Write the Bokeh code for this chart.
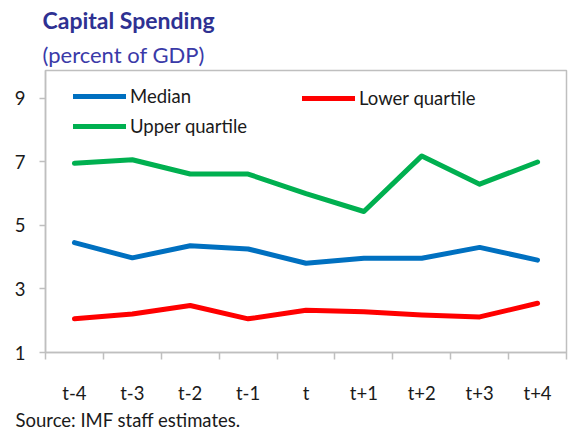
from bokeh.plotting import figure
from bokeh.models import Range1d, FixedTicker, Legend, LegendItem, Title
from bokeh.embed import file_html
from bokeh.resources import INLINE

# ---- data ----
categories = ["t-4", "t-3", "t-2", "t-1", "t", "t+1", "t+2", "t+3", "t+4"]
median = [4.46, 3.98, 4.36, 4.26, 3.81, 3.97, 3.97, 4.31, 3.91]
lower_quartile = [2.06, 2.21, 2.48, 2.06, 2.33, 2.28, 2.18, 2.12, 2.55]
upper_quartile = [6.96, 7.07, 6.62, 6.62, 6.00, 5.44, 7.19, 6.30, 7.00]
y_ticks = [1, 3, 5, 7, 9]

title_text = "Capital Spending"
subtitle_text = "(percent of GDP)"
source_text = "Source: IMF staff estimates."

FONT = "Lato"
AXIS_GRAY = "#BFBFBF"
TEXT = "#1a1a1a"

positions = list(range(len(categories)))

p = figure(width=568, height=430, output_backend="svg", toolbar_location=None,
           title_location=None,
           x_range=Range1d(-0.5, len(categories) - 0.5), y_range=Range1d(1, 9.88),
           min_border_left=45, min_border_right=2, min_border_top=70, min_border_bottom=62)

p.xgrid.visible = False
p.ygrid.visible = False
p.outline_line_color = AXIS_GRAY
p.outline_line_width = 1.5
p.background_fill_color = "white"
p.border_fill_color = "white"

# x axis: labels at category centres, ticks at category boundaries
xa = p.xaxis[0]
xa.ticker = FixedTicker(ticks=positions,
                        minor_ticks=[i - 0.5 for i in range(len(categories) + 1)])
xa.major_label_overrides = {i: c for i, c in enumerate(categories)}
xa.major_tick_line_color = None
xa.major_tick_out = 0
xa.major_tick_in = 0
xa.minor_tick_line_color = AXIS_GRAY
xa.minor_tick_line_width = 1.5
xa.minor_tick_out = 7
xa.minor_tick_in = 0
xa.axis_line_color = AXIS_GRAY
xa.axis_line_width = 1.5
xa.major_label_standoff = 22
xa.major_label_text_font = FONT
xa.major_label_text_font_size = "18.5px"
xa.major_label_text_color = TEXT

ya = p.yaxis[0]
ya.ticker = FixedTicker(ticks=y_ticks)
ya.major_tick_line_color = AXIS_GRAY
ya.major_tick_line_width = 1.5
ya.major_tick_out = 6
ya.major_tick_in = 0
ya.minor_tick_line_color = None
ya.axis_line_color = AXIS_GRAY
ya.axis_line_width = 1.5
ya.major_label_standoff = 14
ya.major_label_text_font = FONT
ya.major_label_text_font_size = "18.5px"
ya.major_label_text_color = TEXT

common = dict(line_width=5, line_cap="round", line_join="round")
r_med = p.line(positions, median, line_color="#0070C0", **common)
r_low = p.line(positions, lower_quartile, line_color="#FF0000", **common)
r_up = p.line(positions, upper_quartile, line_color="#00B050", **common)

leg_style = dict(border_line_color=None, background_fill_alpha=0, padding=0, margin=0,
                 spacing=8, glyph_width=53, glyph_height=20, label_height=20,
                 label_standoff=4, label_text_font=FONT, label_text_font_size="18.5px",
                 label_text_color=TEXT)
leg1 = Legend(items=[LegendItem(label="Median", renderers=[r_med]),
                     LegendItem(label="Upper quartile", renderers=[r_up])],
              location=(28, 215), **leg_style)
leg2 = Legend(items=[LegendItem(label="Lower quartile", renderers=[r_low])],
              location=(257, 243), **leg_style)
p.add_layout(leg1)
p.add_layout(leg2)

p.add_layout(Title(text=subtitle_text, align="left", offset=-3, standoff=6,
                   text_font=FONT, text_font_size="22px", text_font_style="normal",
                   text_color="#3A3AA8"), "above")
p.add_layout(Title(text=title_text, align="left", offset=-3, standoff=4,
                   text_font=FONT, text_font_size="23px", text_font_style="bold",
                   text_color="#2E3192"), "above")
p.add_layout(Title(text=source_text, align="left", offset=-30, standoff=0,
                   text_font=FONT, text_font_size="18.5px", text_font_style="normal",
                   text_color=TEXT), "below")

open("out.html", "w").write(file_html(p, INLINE))
